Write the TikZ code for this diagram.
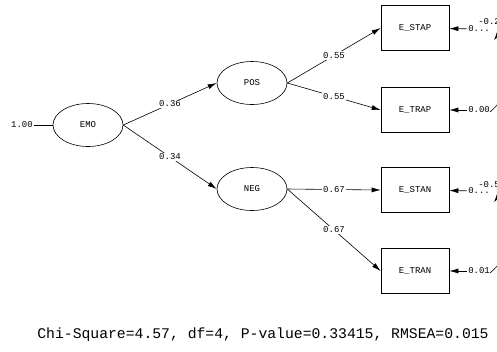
\documentclass[tikz,border=0pt]{standalone}
\usepackage{fontspec}
\setmonofont{Liberation Mono}
\usetikzlibrary{arrows.meta, shapes.geometric}

\begin{document}
\begin{tikzpicture}[x=1bp, y=-1bp, line width=0.6pt,
  every node/.style={font=\ttfamily\fontsize{9}{10}\selectfont},
  latent/.style={draw, ellipse, minimum width=70bp, minimum height=43bp, inner sep=0pt},
  observed/.style={draw, rectangle, minimum width=68bp, minimum height=45bp, inner sep=0pt},
  loading/.style={-{Latex[length=9bp,width=5bp]}},
  covar/.style={{Latex[length=8bp,width=5bp]}-},
  coef/.style={fill=white, inner sep=1bp}]
  \useasboundingbox (0,0) rectangle (497,351);
  \clip (0,0) rectangle (497,351);

  \node[latent] (emo) at (88,125) {EMO};
  \node[latent] (pos) at (252,83) {POS};
  \node[latent] (neg) at (252,189) {NEG};
  \node[observed] (stap) at (415,28) {E\_STAP};
  \node[observed] (trap) at (415,110) {E\_TRAP};
  \node[observed] (stan) at (415,190) {E\_STAN};
  \node[observed] (tran) at (415,271) {E\_TRAN};

  \node[inner sep=1bp] (emovar) at (22,125) {1.00};
  \draw (emovar) -- (emo);

  \draw[loading] (emo.east) -- node[coef] {0.36} (pos.west);
  \draw[loading] (emo.east) -- node[coef] {0.34} (neg.west);
  \draw[loading] (pos.east) -- node[coef] {0.55} (stap.west);
  \draw[loading] (pos.east) -- node[coef] {0.55} (trap.west);
  \draw[loading] (neg.east) -- node[coef] {0.67} (stan.west);
  \draw[loading] (neg.east) -- node[coef] {0.67} (tran.west);

  % error variances
  \node[anchor=west, inner sep=1bp] (stapvar) at (467,29) {0...};
  \node[anchor=west, inner sep=1bp] (trapvar) at (467,110) {0.00};
  \node[anchor=west, inner sep=1bp] (stanvar) at (467,191) {0...};
  \node[anchor=west, inner sep=1bp] (tranvar) at (467,271) {0.01};
  \draw[loading] (stapvar) -- (stap);
  \draw[loading] (trapvar) -- (trap);
  \draw[loading] (stanvar) -- (stan);
  \draw[loading] (tranvar) -- (tran);

  % error covariances
  \node[anchor=west, inner sep=0pt] (stapcovlab) at (478,22) {-0.2};
  \node[anchor=west, inner sep=0pt] (stancovlab) at (478,185) {-0.5};
  \coordinate (stapcov) at (494,40);
  \coordinate (trapcov) at (490,112);
  \coordinate (stancov) at (494,202);
  \coordinate (trancov) at (490,273);
  \draw[covar] (stapcov) .. controls (514,14) and (530,78) .. (trapcov);
  \draw[covar] (stancov) .. controls (514,176) and (530,239) .. (trancov);

  \node (fitline) at (263,335) {\fontsize{14.8}{16}\selectfont Chi-Square=4.57, df=4, P-value=0.33415, RMSEA=0.015};
\end{tikzpicture}
\end{document}
